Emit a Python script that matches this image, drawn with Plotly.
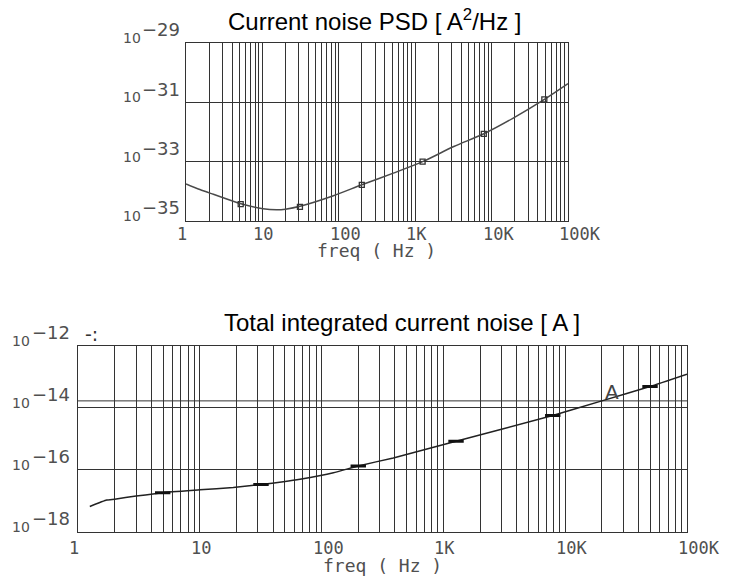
import math
import plotly.graph_objects as go

# ---------------- data ----------------
# Top: current noise PSD [A^2/Hz]
psd_freq = [1, 1.52, 2.28, 5.1, 10.2, 15.3, 20, 32, 85, 200, 517, 1250, 3200, 7900, 19200, 48500, 100000]
psd_vals = [1.78e-34, 1.15e-34, 7.94e-35, 3.9e-35, 2.6e-35, 2.4e-35, 2.51e-35, 3.2e-35, 7.1e-35,
            1.66e-34, 4.1e-34, 1.0e-33, 3.24e-33, 8.7e-33, 2.95e-32, 1.23e-31, 4.27e-31]
psd_mark_freq = [5.2, 31, 200, 1250, 7900, 49000]
psd_mark_vals = [3.7e-35, 3.0e-35, 1.66e-34, 1.0e-33, 8.7e-33, 1.26e-31]

# Bottom: total integrated current noise [A]
tot_freq = [1.25, 1.72, 2.0, 3.0, 4.96, 10, 18.8, 31.8, 48.5, 66.5, 125, 200, 388, 1270, 7900, 20000, 49700, 100000]
tot_vals = [6.5e-18, 1.05e-17, 1.12e-17, 1.41e-17, 1.82e-17, 2.24e-17, 2.69e-17, 3.31e-17, 4.07e-17,
            4.9e-17, 7.94e-17, 1.32e-16, 2.4e-16, 8.3e-16, 5.6e-15, 1.66e-14, 4.8e-14, 1.2e-13]
tot_mark_freq = [4.96, 31.8, 200, 1270, 7900, 49700]
tot_mark_vals = [1.82e-17, 3.31e-17, 1.32e-16, 8.3e-16, 5.6e-15, 4.8e-14]

cursor_label = "A"
cursor_freq = 20000
cursor_val = 1.66e-14

# tick labels
x_tick_vals = [1, 10, 100, 1000, 10000, 100000]
x_tick_text = ["1", "10", "100", "1K", "10K", "100K"]
top_y_exps = [-29, -31, -33, -35]
bot_y_exps = [-12, -14, -16, -18]

title_top = "Current noise PSD [ A<sup>2</sup>/Hz ]"
title_bot = "Total integrated current noise [ A ]"
x_title = "freq ( Hz )"

# ---------------- figure ----------------
W, H = 733, 585
GRID = "#333333"
LABEL = "#505050"
TICKFONT = "DejaVu Sans Mono"

fig = go.Figure()

fig.add_trace(go.Scatter(x=psd_freq, y=psd_vals, mode="lines",
                         line=dict(color="#4a4a4a", width=1.5, shape="spline", smoothing=0.8),
                         xaxis="x", yaxis="y", hoverinfo="skip"))
fig.add_trace(go.Scatter(x=psd_mark_freq, y=psd_mark_vals, mode="markers",
                         marker=dict(symbol="square-open", size=5, color="#333333", line=dict(width=1.3)),
                         xaxis="x", yaxis="y", hoverinfo="skip"))

fig.add_trace(go.Scatter(x=[1, 100000], y=[cursor_val, cursor_val], mode="lines",
                         line=dict(color=GRID, width=1), xaxis="x2", yaxis="y2", hoverinfo="skip"))
fig.add_trace(go.Scatter(x=tot_freq, y=tot_vals, mode="lines",
                         line=dict(color="#222222", width=1.5, shape="spline", smoothing=0.4),
                         xaxis="x2", yaxis="y2", hoverinfo="skip"))
fig.add_trace(go.Scatter(x=tot_mark_freq, y=tot_mark_vals, mode="markers",
                         marker=dict(symbol="line-ew", size=11, color="#111111",
                                     line=dict(width=3, color="#111111")),
                         xaxis="x2", yaxis="y2", hoverinfo="skip"))

common_x = dict(type="log", dtick="D1", showgrid=True, gridcolor=GRID, gridwidth=1,
                showticklabels=False, ticks="", showline=True, mirror=True,
                linecolor=GRID, linewidth=1, zeroline=False, range=[0, 5])
common_y = dict(type="log", showgrid=True, gridcolor=GRID, gridwidth=1,
                showticklabels=False, ticks="", showline=True, mirror=True,
                linecolor=GRID, linewidth=1, zeroline=False)

top_dom_x = [186 / W, 568 / W]
top_dom_y = [1 - 221 / H, 1 - 43 / H]
bot_dom_x = [78 / W, 687 / W]
bot_dom_y = [1 - 531.7 / H, 1 - 345.7 / H]

fig.update_layout(
    width=W, height=H, margin=dict(l=0, r=0, t=0, b=0),
    paper_bgcolor="white", plot_bgcolor="white", showlegend=False,
    hovermode=False,
    xaxis=dict(common_x, domain=top_dom_x, anchor="y"),
    yaxis=dict(common_y, domain=top_dom_y, anchor="x", range=[-35, -29],
               tickvals=[10.0 ** e for e in top_y_exps]),
    xaxis2=dict(common_x, domain=bot_dom_x, anchor="y2"),
    yaxis2=dict(common_y, domain=bot_dom_y, anchor="x2", range=[-18, -12],
                tickvals=[10.0 ** e for e in bot_y_exps]),
)

ann = []
# titles
ann.append(dict(text=title_top, xref="paper", yref="paper", x=374 / W, y=1 - 20 / H,
                xanchor="center", yanchor="middle", showarrow=False,
                font=dict(family="Liberation Sans", size=24, color="black")))
ann.append(dict(text=title_bot, xref="paper", yref="paper", x=402 / W, y=1 - 322 / H,
                xanchor="center", yanchor="middle", showarrow=False,
                font=dict(family="Liberation Sans", size=24, color="black")))

# x tick labels
for xr, yb, ysh in (("x", top_dom_y[0], -13), ("x2", bot_dom_y[0], -16.5)):
    for v, t in zip(x_tick_vals, x_tick_text):
        ann.append(dict(text=t, xref=xr, yref="paper", x=math.log10(v), y=yb,
                        xanchor="left", yanchor="middle", xshift=-11, yshift=ysh,
                        showarrow=False, font=dict(family=TICKFONT, size=17, color=LABEL)))

# x axis titles
ann.append(dict(text=x_title, xref="paper", yref="paper", x=376 / W, y=1 - 250 / H,
                xanchor="center", yanchor="middle", showarrow=False,
                font=dict(family=TICKFONT, size=18, color=LABEL)))
ann.append(dict(text=x_title, xref="paper", yref="paper", x=382 / W, y=1 - 565 / H,
                xanchor="center", yanchor="middle", showarrow=False,
                font=dict(family=TICKFONT, size=18, color=LABEL)))

# y tick labels: "10" base + large exponent
for yr, exps, xb, xe in (("y", top_y_exps, 121, 140), ("y2", bot_y_exps, 10, 30)):
    for e in exps:
        ann.append(dict(text="10", xref="paper", yref=yr, x=xb / W, y=e,
                        xanchor="left", yanchor="middle", yshift=5, showarrow=False,
                        font=dict(family="DejaVu Sans", size=14, color=LABEL)))
        ann.append(dict(text="\u2212" + str(-e), xref="paper", yref=yr, x=xe / W, y=e,
                        xanchor="left", yanchor="middle", yshift=13, showarrow=False,
                        font=dict(family="DejaVu Sans", size=18, color=LABEL)))
ann.append(dict(text="-:", xref="paper", yref="y2", x=83 / W, y=-12,
                xanchor="left", yanchor="middle", yshift=12, showarrow=False,
                font=dict(family="DejaVu Sans", size=19, color="#333333")))

# cursor label
ann.append(dict(text=cursor_label, xref="x2", yref="y2", x=math.log10(cursor_freq),
                y=math.log10(cursor_val), xanchor="center", yanchor="middle",
                xshift=10, yshift=9, showarrow=False,
                font=dict(family="DejaVu Sans", size=20, color="#444444")))

fig.update_layout(annotations=ann)
fig.write_html("out.html", config={"displayModeBar": False, "staticPlot": True},
               post_script="document.body.style.margin='0';document.body.style.overflow='hidden';")
